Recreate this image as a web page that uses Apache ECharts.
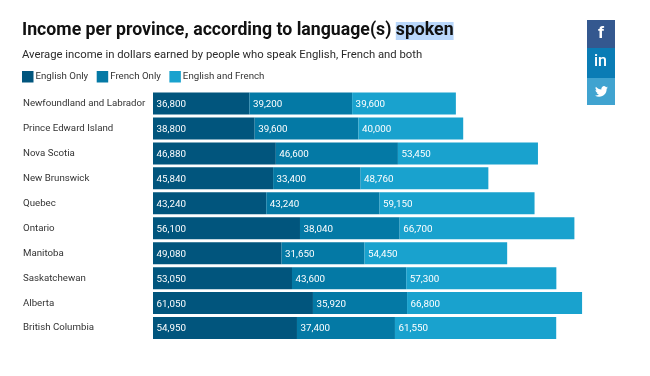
<!DOCTYPE html>
<html><head><meta charset="utf-8">
<style>html,body{margin:0;padding:0;background:#fff}#c{width:650px;height:376px}</style>
<script src="https://cdn.jsdelivr.net/npm/echarts@6/dist/echarts.min.js"></script>
</head><body><div id="c"></div>
<script>
const categories = ["Newfoundland and Labrador","Prince Edward Island","Nova Scotia","New Brunswick","Quebec","Ontario","Manitoba","Saskatchewan","Alberta","British Columbia"];
const englishOnly = [36800,38800,46880,45840,43240,56100,49080,53050,61050,54950];
const frenchOnly = [39200,39600,46600,33400,43240,38040,31650,43600,35920,37400];
const englishFrench = [39600,40000,53450,48760,59150,66700,54450,57300,66800,61550];
const seriesNames = ["English Only","French Only","English and French"];
const colors = ["#01557d","#0479a5","#19a2ce"];
const twitterPath = "M23.95 4.57a10 10 0 0 1-2.82.77 4.96 4.96 0 0 0 2.16-2.72c-.95.55-2 .96-3.13 1.19a4.92 4.92 0 0 0-8.38 4.48C7.69 8.1 4.07 6.13 1.64 3.16a4.82 4.82 0 0 0-.66 2.47c0 1.71.87 3.21 2.19 4.1a4.9 4.9 0 0 1-2.23-.61v.06c0 2.39 1.7 4.38 3.95 4.83a5 5 0 0 1-2.21.08 4.94 4.94 0 0 0 4.6 3.42A9.87 9.87 0 0 1 0 19.54a14 14 0 0 0 7.56 2.21c9.05 0 14-7.5 14-13.98 0-.21 0-.42-.02-.63a9.94 9.94 0 0 0 2.46-2.55z";
echarts.graphic.registerShape("twitterBird", echarts.graphic.extendPath(twitterPath, {}));
const font = "Roboto";
const mk = (i, d) => ({
  name: seriesNames[i], type: "bar", stack: "t", data: d, barWidth: 22,
  itemStyle: {color: colors[i]},
  label: {show: true, position: "insideLeft", distance: 3.5, offset: [0, 1], color: "#fff", fontFamily: font, fontSize: 9.8,
    formatter: p => p.value.toLocaleString("en-US")},
  emphasis: {disabled: true}
});
const chart = echarts.init(document.getElementById("c"), null, {renderer: "canvas"});
chart.setOption({
  animation: false,
  backgroundColor: "#fff",
  textStyle: {fontFamily: font},
  title: [
    {left: 22, top: 20, padding: 0, text: "{a|Income per province, according to language(s) }{b|spoken}",
     textStyle: {rich: {
       a: {fontFamily: font, fontSize: 17.72, fontWeight: 700, color: "#111", lineHeight: 22},
       b: {fontFamily: font, fontSize: 17.72, fontWeight: 700, color: "#111", lineHeight: 22, backgroundColor: "#b9d7fb"}
     }}},
    {left: 22, top: 50, padding: 0, text: "Average income in dollars earned by people who speak English, French and both",
     textStyle: {fontFamily: font, fontSize: 11.3, fontWeight: 400, color: "#2a2a2a"}}
  ],
  legend: {left: 22, top: 71, padding: 0, itemWidth: 11.5, itemHeight: 11.5, itemGap: 8.5, icon: "rect",
    selectedMode: false, data: seriesNames,
    textStyle: {fontFamily: font, fontSize: 9.7, color: "#333", padding: [1,0,0,-3]}},
  grid: {left: 153, top: 91, width: 445.4, height: 249.5},
  xAxis: {type: "value", min: 0, max: 170000, show: false},
  yAxis: {type: "category", inverse: true, data: categories,
    axisLine: {show: false}, axisTick: {show: false},
    axisLabel: {margin: 130, align: "left", color: "#333", fontFamily: font, fontSize: 9.7, padding: [4,0,0,0]}},
  series: [mk(0, englishOnly), mk(1, frenchOnly), mk(2, englishFrench)],
  graphic: [
    {type: "rect", x: 587, y: 20, shape: {width: 28, height: 28}, style: {fill: "#34588f"}},
    {type: "rect", x: 587, y: 48, shape: {width: 28, height: 30}, style: {fill: "#0a7cb5"}},
    {type: "rect", x: 587, y: 78, shape: {width: 28, height: 27}, style: {fill: "#40a3d0"}},
    {type: "text", x: 598, y: 25, style: {text: "f", fill: "#fff", font: "700 17px Roboto"}},
    {type: "text", x: 594, y: 54, style: {text: "in", fill: "#fff", font: "500 16px Roboto"}},
    {type: "twitterBird", x: 595, y: 85, scaleX: 0.54, scaleY: 0.54, style: {fill: "#fff"}}
  ]
});
</script></body></html>
